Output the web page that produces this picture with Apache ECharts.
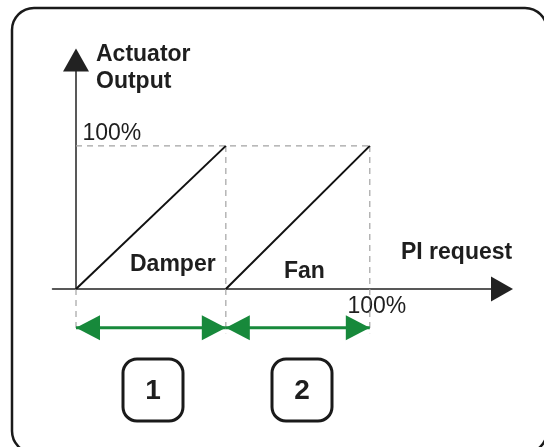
<!DOCTYPE html>
<html>
<head>
<meta charset="utf-8">
<script src="https://cdn.jsdelivr.net/npm/echarts@6/dist/echarts.min.js"></script>
<style>
  html, body { margin: 0; padding: 0; background: #fff; }
  #chart { width: 544px; height: 447px; }
</style>
</head>
<body>
<div id="chart"></div>
<script>
// PI request (x) vs actuator output (y), both in %
const damper = [[0, 0], [51, 100]];
const fan = [[51, 0], [100, 100]];
// dashed guide segments
const guides = [
  [[0, 100], [100, 100]],
  [[51, 100], [51, -31]],
  [[100, 100], [100, -31]],
  [[0, 0], [0, -30]]
];
// green span arrows (stage 1 = damper, stage 2 = fan)
const spans = [[0, 51], [51, 100]];
const spanLevel = -27;
const stageNames = ['1', '2'];
const xTickValues = [100];
const yTickValues = [100];

const font = 'Liberation Sans, Arial, Helvetica, sans-serif';
const green = '#17893b';

const chart = echarts.init(document.getElementById('chart'));

const series = [];
guides.forEach(function (seg) {
  series.push({
    type: 'line', data: seg, symbol: 'none', clip: false, silent: true, z: 1,
    lineStyle: { color: '#a3a3a3', width: 1.2, type: [6, 5] }
  });
});
[damper, fan].forEach(function (d) {
  series.push({
    type: 'line', data: d, symbol: 'none', clip: false, z: 3,
    lineStyle: { color: '#111', width: 2 }
  });
});
spans.forEach(function (s) {
  series.push({
    type: 'line', data: [[s[0], spanLevel], [s[1], spanLevel]], symbol: 'none', clip: false, z: 4,
    lineStyle: { color: green, width: 3 }
  });
  // left-pointing head at start, right-pointing head at end
  series.push({
    type: 'scatter', data: [[s[0], spanLevel]], clip: false, z: 5,
    symbol: 'path://M1,0L0,0.5L1,1Z', symbolSize: [24, 25], symbolOffset: [12, 0],
    itemStyle: { color: green, opacity: 1 }
  });
  series.push({
    type: 'scatter', data: [[s[1], spanLevel]], clip: false, z: 5,
    symbol: 'path://M0,0L1,0.5L0,1Z', symbolSize: [24, 25], symbolOffset: [-12, 0],
    itemStyle: { color: green, opacity: 1 }
  });
});

const boxCenters = [153, 302];
const graphic = [
  { type: 'rect', shape: { x: 12, y: 8, width: 535, height: 445, r: 22 },
    style: { fill: 'none', stroke: '#1a1a1a', lineWidth: 2.5 }, z: 10 },
  { type: 'text', x: 96, y: 41, style: { text: 'Actuator\nOutput', font: 'bold 23px ' + font, fill: '#1e1e1e', lineHeight: 27 }, z: 10 },
  { type: 'text', x: 130, y: 265, style: { text: 'Damper', font: 'bold 23px ' + font, fill: '#1e1e1e', verticalAlign: 'middle' }, z: 10 },
  { type: 'text', x: 284, y: 272, style: { text: 'Fan', font: 'bold 23px ' + font, fill: '#1e1e1e', verticalAlign: 'middle' }, z: 10 },
  { type: 'text', x: 401, y: 253, style: { text: 'PI request', font: 'bold 23px ' + font, fill: '#1e1e1e', verticalAlign: 'middle' }, z: 10 }
];
stageNames.forEach(function (n, i) {
  graphic.push({ type: 'rect', shape: { x: boxCenters[i] - 30, y: 359, width: 60, height: 62, r: 14 },
    style: { fill: '#fff', stroke: '#1a1a1a', lineWidth: 3 }, z: 10 });
  graphic.push({ type: 'text', x: boxCenters[i], y: 391,
    style: { text: n, font: 'bold 28px ' + font, fill: '#1e1e1e', align: 'center', verticalAlign: 'middle' }, z: 11 });
});

chart.setOption({
  animation: false,
  backgroundColor: '#fff',
  grid: { left: 52.5, right: 42, top: 60, bottom: 158 },
  xAxis: {
    type: 'value', min: -8, max: 145,
    axisLine: { onZero: true, lineStyle: { color: '#222', width: 1.5 }, symbol: ['none', 'triangle'], symbolSize: [25, 22] },
    axisTick: { show: false },
    splitLine: { show: false },
    axisLabel: {
      customValues: xTickValues, formatter: function (v) { return v + '%'; },
      margin: 6, padding: [0, 0, 0, 14],
      fontFamily: font, fontSize: 23, color: '#1e1e1e'
    }
  },
  yAxis: {
    type: 'value', min: 0, max: 160,
    axisLine: { onZero: true, lineStyle: { color: '#222', width: 1.5 }, symbol: ['none', 'triangle'], symbolSize: [26, 23] },
    axisTick: { show: false },
    splitLine: { show: false },
    axisLabel: {
      customValues: yTickValues, formatter: function (v) { return v + '%'; },
      inside: true, margin: 30, align: 'left', verticalAlign: 'bottom', padding: [0, 0, 1, 0],
      fontFamily: font, fontSize: 23, color: '#1e1e1e'
    }
  },
  series: series,
  graphic: graphic
});
</script>
</body>
</html>
